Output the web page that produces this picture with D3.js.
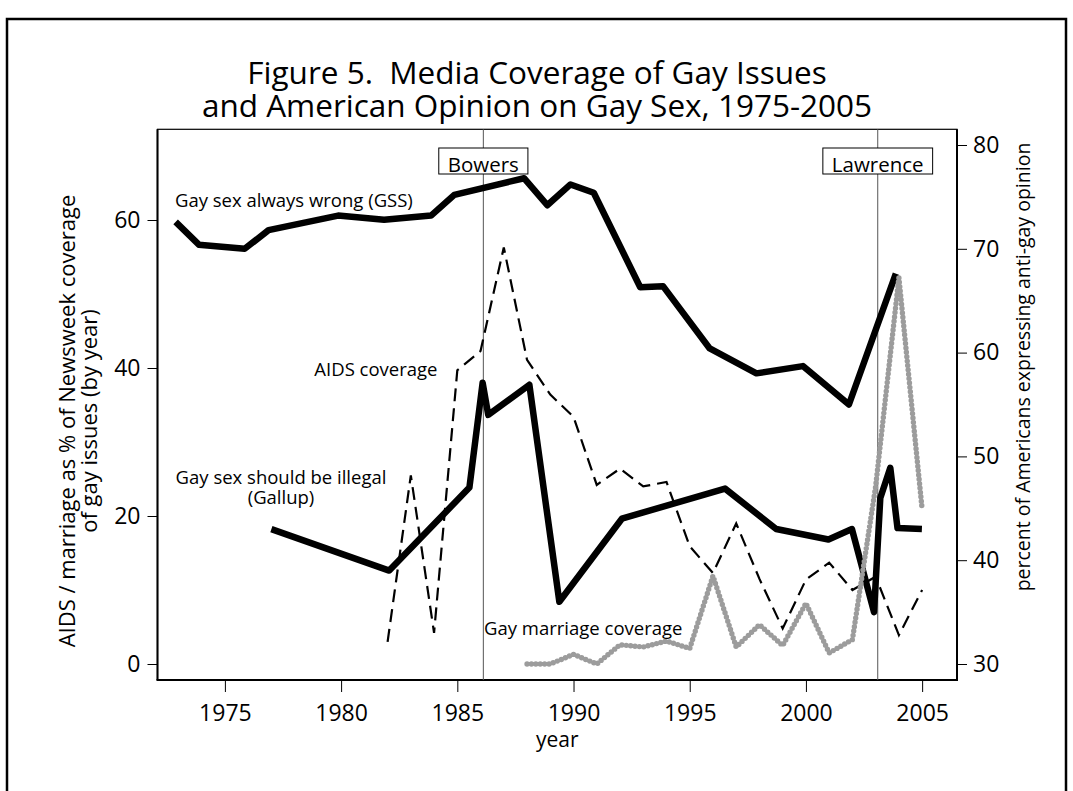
<!DOCTYPE html>
<html>
<head>
<meta charset="utf-8">
<script src="https://cdn.jsdelivr.net/npm/d3@7"></script>
<style>
  body { margin: 0; background: #fff; }
  text { font-family: "Open Sans", Lato, sans-serif; fill: #000; }
</style>
</head>
<body>
<svg id="chart" width="1073" height="791"></svg>
<script>
// DATA
const gssYear = [1972.88, 1973.88, 1975.85, 1976.88, 1979.87, 1981.85, 1983.87, 1984.87, 1987.87, 1988.87, 1989.87, 1990.87, 1992.87, 1993.85, 1995.86, 1997.87, 1999.87, 2001.85, 2003.87];
const gssValue = [72.6, 70.4, 70.0, 71.8, 73.2, 72.8, 73.2, 75.2, 76.8, 74.2, 76.2, 75.4, 66.3, 66.4, 60.4, 58.0, 58.7, 55.0, 67.6];

const gallupYear = [1977.0, 1982.07, 1985.52, 1986.09, 1986.33, 1988.1, 1989.39, 1992.08, 1996.52, 1998.72, 2000.97, 2001.98, 2002.93, 2003.2, 2003.63, 2003.94, 2004.99];
const gallupValue = [43.0, 39.0, 47.0, 57.1, 54.0, 56.9, 36.0, 44.0, 46.9, 43.0, 42.0, 43.0, 35.0, 46.0, 48.9, 43.1, 43.0];

const aidsYear = [1982, 1983, 1984, 1985, 1986, 1987, 1988, 1989, 1990, 1991, 1992, 1993, 1994, 1995, 1996, 1997, 1998, 1999, 2000, 2001, 2002, 2003, 2004, 2005];
const aidsValue = [3.0, 25.5, 4.2, 39.7, 42.3, 56.3, 41.1, 36.4, 33.4, 24.2, 26.4, 24.0, 24.6, 15.9, 12.3, 19.0, 11.5, 4.8, 11.4, 13.7, 10.0, 11.8, 3.9, 10.0];

const marriageYear = [1988, 1989, 1990, 1991, 1992, 1993, 1994, 1995, 1996, 1997, 1998, 1999, 2000, 2001, 2002, 2003, 2004, 2005];
const marriageValue = [0, 0, 1.3, 0, 2.6, 2.3, 3.1, 2.1, 11.9, 2.3, 5.3, 2.5, 8.2, 1.5, 3.3, 24.0, 52.2, 20.9];

const xTicks = [1975, 1980, 1985, 1990, 1995, 2000, 2005];
const leftTicks = [0, 20, 40, 60];
const rightTicks = [30, 40, 50, 60, 70, 80];

const events = [
  { label: "Bowers", year: 1986.12 },
  { label: "Lawrence", year: 2003.09 },
];

const titleLines = [
  "Figure 5.  Media Coverage of Gay Issues",
  "and American Opinion on Gay Sex, 1975-2005",
];

// CANVAS SETUP
const svg = d3.select("#chart");
const plot = { left: 157.5, right: 957, top: 129.3, bottom: 680 };

svg.append("rect").attr("width", 1073).attr("height", 791).attr("fill", "#fff");

// outer frame (runs off the bottom of the picture)
svg.append("rect")
  .attr("x", 7).attr("y", 19)
  .attr("width", 1059).attr("height", 900)
  .attr("fill", "none").attr("stroke", "#000").attr("stroke-width", 2.5);

const x = d3.scaleLinear().domain([1972.1, 2006.5]).range([plot.left, plot.right]);
const yL = d3.scaleLinear().domain([0, 60]).range([664, 220]);
const yR = d3.scaleLinear().domain([30, 80]).range([664, 145]);

// TITLE (one text, two lines)
svg.append("text")
  .attr("text-anchor", "middle")
  .style("font-size", "31.5px")
  .style("white-space", "pre")
  .selectAll("tspan")
  .data(titleLines)
  .join("tspan")
  .attr("x", 537)
  .attr("y", (d, i) => 84 + i * 33)
  .text((d) => d);

// PLOT BOX
svg.append("rect")
  .attr("x", plot.left).attr("y", plot.top)
  .attr("width", plot.right - plot.left).attr("height", plot.bottom - plot.top)
  .attr("fill", "none").attr("stroke", "#000").attr("stroke-width", 1.2);

// AXES
const gx = svg.append("g")
  .attr("transform", `translate(0,${plot.bottom})`)
  .call(d3.axisBottom(x).tickValues(xTicks).tickFormat(d3.format("d")).tickSize(12).tickPadding(13));

const gyL = svg.append("g")
  .attr("transform", `translate(${plot.left},0)`)
  .call(d3.axisLeft(yL).tickValues(leftTicks).tickSize(10).tickPadding(7));

const gyR = svg.append("g")
  .attr("transform", `translate(${plot.right},0)`)
  .call(d3.axisRight(yR).tickValues(rightTicks).tickSize(10).tickPadding(6));

[gx, gyL, gyR].forEach((g) => {
  g.select(".domain").remove();
  g.selectAll(".tick line").attr("stroke", "#000").attr("stroke-width", 1);
  g.selectAll(".tick text")
    .style("font-family", "'Open Sans', sans-serif")
    .style("font-size", "23px")
    .attr("fill", "#000");
});

// heavier axis lines
svg.append("line")
  .attr("x1", plot.left).attr("x2", plot.left)
  .attr("y1", plot.top).attr("y2", plot.bottom)
  .attr("stroke", "#000").attr("stroke-width", 2);
svg.append("line")
  .attr("x1", plot.right).attr("x2", plot.right)
  .attr("y1", plot.top).attr("y2", plot.bottom)
  .attr("stroke", "#000").attr("stroke-width", 2);
svg.append("line")
  .attr("x1", plot.left - 1).attr("x2", plot.right + 1)
  .attr("y1", plot.bottom).attr("y2", plot.bottom)
  .attr("stroke", "#000").attr("stroke-width", 2.2);

// AXIS TITLES
svg.append("text")
  .attr("x", (plot.left + plot.right) / 2)
  .attr("y", 747)
  .attr("text-anchor", "middle")
  .style("font-size", "21px")
  .text("year");

const leftTitle = svg.append("text")
  .attr("transform", "translate(75,421) rotate(-90)")
  .attr("text-anchor", "middle")
  .style("font-size", "22px");
leftTitle.append("tspan").attr("x", 0).attr("y", 0).text("AIDS / marriage as % of Newsweek coverage");
leftTitle.append("tspan").attr("x", 0).attr("y", 22).text("of gay issues (by year)");

svg.append("text")
  .attr("transform", "translate(1030,367) rotate(-90)")
  .attr("text-anchor", "middle")
  .style("font-size", "19.5px")
  .text("percent of Americans expressing anti-gay opinion");

// EVENT LINES
svg.append("g")
  .selectAll("line")
  .data(events)
  .join("line")
  .attr("x1", (d) => x(d.year)).attr("x2", (d) => x(d.year))
  .attr("y1", plot.top).attr("y2", plot.bottom)
  .attr("stroke", "#555").attr("stroke-width", 1);

// SERIES
const pts = (xs, ys) => xs.map((v, i) => [v, ys[i]]);
const lineR = d3.line().x((d) => x(d[0])).y((d) => yR(d[1]));
const lineL = d3.line().x((d) => x(d[0])).y((d) => yL(d[1]));

svg.append("path")
  .attr("d", lineR(pts(gssYear, gssValue)))
  .attr("fill", "none").attr("stroke", "#000").attr("stroke-width", 6.5)
  .attr("stroke-linejoin", "round");

svg.append("path")
  .attr("d", lineR(pts(gallupYear, gallupValue)))
  .attr("fill", "none").attr("stroke", "#000").attr("stroke-width", 6.5)
  .attr("stroke-linejoin", "round");

svg.append("path")
  .attr("d", lineL(pts(aidsYear, aidsValue)))
  .attr("fill", "none").attr("stroke", "#000").attr("stroke-width", 2.2)
  .attr("stroke-dasharray", "13 7");

svg.append("path")
  .attr("d", lineL(pts(marriageYear, marriageValue)))
  .attr("fill", "none").attr("stroke", "#9c9c9c").attr("stroke-width", 5.4)
  .attr("stroke-linecap", "round").attr("stroke-linejoin", "round")
  .attr("stroke-dasharray", "0 4.4");

// EVENT BOXES
const eg = svg.append("g")
  .selectAll("g")
  .data(events)
  .join("g");
eg.append("text")
  .attr("x", (d) => x(d.year))
  .attr("y", 171.5)
  .attr("text-anchor", "middle")
  .style("font-size", "20.5px")
  .text((d) => d.label);
eg.insert("rect", "text")
  .each(function (d) {
    const b = d3.select(this.parentNode).select("text").node().getBBox();
    d3.select(this)
      .attr("x", b.x - 9).attr("width", b.width + 18)
      .attr("y", 148).attr("height", 26);
  })
  .attr("fill", "#fff").attr("stroke", "#000").attr("stroke-width", 1);

// SERIES LABELS
const ann = svg.append("g").style("font-size", "18.5px");
ann.append("text").attr("x", 175).attr("y", 206.5).text("Gay sex always wrong (GSS)");
ann.append("text").attr("x", 437.5).attr("y", 376).attr("text-anchor", "end").text("AIDS coverage");
const gallupLabel = ann.append("text").attr("text-anchor", "middle");
gallupLabel.append("tspan").attr("x", 281).attr("y", 484).text("Gay sex should be illegal");
gallupLabel.append("tspan").attr("x", 281).attr("y", 504).text("(Gallup)");
ann.append("text").attr("x", 484).attr("y", 635).text("Gay marriage coverage");
</script>
</body>
</html>
